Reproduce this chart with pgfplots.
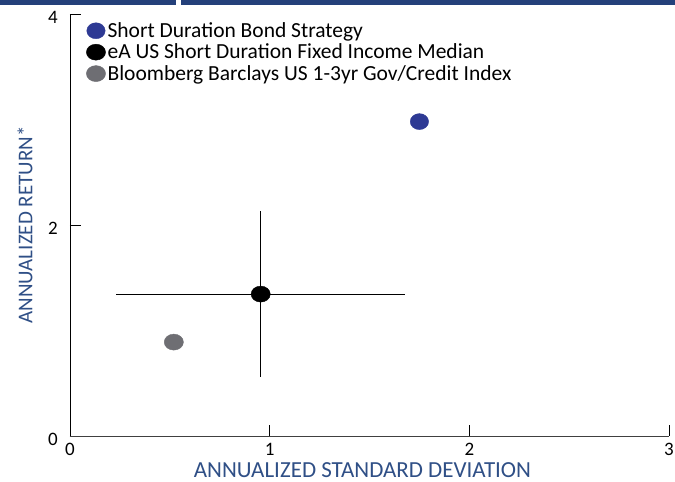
\documentclass[border=0pt]{standalone}
\usepackage{fontspec}
\setmainfont{Carlito}
\usepackage{pgfplots}
\pgfplotsset{compat=1.18}
\definecolor{navy}{HTML}{24407A}
\definecolor{ptblue}{HTML}{2E3A94}
\definecolor{ptgray}{HTML}{6E6E73}
\definecolor{labblue}{HTML}{2F4F86}
\begin{document}
\begin{tikzpicture}[x=1pt,y=1pt]
\useasboundingbox (0,0) rectangle (675,482);
\fill[navy] (0,477) rectangle (176,482);
\fill[navy] (181,477) rectangle (675,482);
\begin{axis}[
  at={(70pt,46pt)}, anchor=south west,
  scale only axis, width=599pt, height=422pt,
  xmin=0, xmax=3, ymin=0, ymax=4,
  axis lines=left, axis line style={-},
  x axis line style={draw=black!75},
  xtick={0,1,2,3}, ytick={0,2,4},
  tick align=inside, major tick length=11pt,
  tick style={black, thin},
  /pgf/number format/assume math mode=true,
  tick label style={font=\fontsize{19}{21}\selectfont, inner sep=0pt},
  xticklabel style={yshift=-7pt},
  yticklabel style={xshift=-12pt, yshift=-3pt},
  xlabel={ANNUALIZED STANDARD DEVIATION},
  ylabel={ANNUALIZED RETURN*},
  xlabel style={font=\fontsize{23}{26}\selectfont, text=labblue, inner sep=0pt,
    at={(axis description cs:0.4883,0)}, anchor=base, yshift=-41.5pt},
  ylabel style={font=\fontsize{21}{26}\selectfont, text=labblue, yshift=12pt},
  legend style={at={(0.027,0.985)}, anchor=north west, draw=none, fill=none,
    font=\fontsize{21.5}{23}\selectfont, row sep=1pt, inner sep=0pt},
  legend cell align=left,
  clip=false,
]
\addplot[only marks, mark=*, mark size=8pt, ptblue, mark options={xscale=1.15, draw=ptblue, fill=ptblue}]
  coordinates {(1.75,2.98)};
\addlegendentry{Short Duration Bond Strategy}
\addplot[only marks, mark=*, mark size=8pt, black, mark options={xscale=1.2, fill=black},
  error bars/.cd, x dir=both, x explicit, y dir=both, y explicit, error mark=none,
  error bar style={black, line width=0.9pt}]
  coordinates {(0.955,1.345) +- (0.725,0.79)};
\addlegendentry{eA US Short Duration Fixed Income Median}
\addplot[only marks, mark=*, mark size=8pt, ptgray, mark options={xscale=1.2, draw=ptgray, fill=ptgray}]
  coordinates {(0.52,0.89)};
\addlegendentry{Bloomberg Barclays US 1-3yr Gov/Credit Index}
\end{axis}
\end{tikzpicture}
\end{document}
